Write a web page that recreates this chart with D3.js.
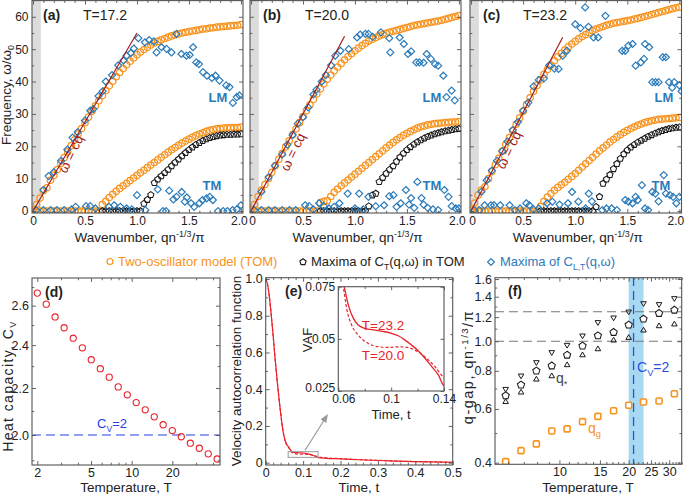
<!DOCTYPE html>
<html><head><meta charset="utf-8">
<script src="https://cdn.jsdelivr.net/npm/d3@7"></script>
<style>body{margin:0;background:#fff}svg{font-family:"Liberation Sans",Arial,sans-serif}</style>
</head><body>
<svg id="chart" width="685" height="494"></svg>
<script>
// ---------------- DATA ----------------
const qGrid = [0,0.033,0.067,0.1,0.133,0.167,0.2,0.233,0.267,0.3,0.333,0.367,0.4,0.433,0.467,0.5,0.533,0.567,0.6,0.633,0.667,0.7,0.733,0.767,0.8,0.833,0.867,0.9,0.933,0.967,1.0,1.033,1.067,1.1,1.133,1.167,1.2,1.233,1.267,1.3,1.333,1.367,1.4,1.433,1.467,1.5,1.533,1.567,1.6,1.633,1.667,1.7,1.733,1.767,1.8,1.833,1.867,1.9,1.933,1.967,2.0];
const _ = null;
const upperA = [0.5,2,4,6.3,7.2,9.5,11,12.8,14.7,16.5,18.3,20.2,22,23.8,25.5,27.3,29,30.8,32.5,34.1,35.7,37.2,38.7,40.1,41.5,42.8,44,45.2,46.3,47.3,48.3,49.1,49.9,50.6,51.3,51.9,52.4,52.9,53.3,53.7,54.1,54.4,54.7,55,55.2,55.4,55.6,55.8,56,56.2,56.3,56.5,56.6,56.8,56.9,57,57.1,57.2,57.3,57.4,57.6];
const lowerA = [0,0,0,0,0,0,0,0,0,0,0,0,0,0,0,0,0,0,0,0,2,3,4.2,5.2,6.1,7,7.8,8.6,9.4,10.2,11,11.8,12.6,13.4,14.2,15,15.8,16.6,17.4,18.2,18.9,19.6,20.3,21,21.6,22.2,22.8,23.3,23.8,24.2,24.6,24.9,25.2,25.4,25.5,25.6,25.7,25.7,25.8,25.8,25.9];
const blackA = [_,_,_,_,_,_,_,_,_,_,_,_,_,_,_,_,_,_,_,_,0,0,0,0,0,0,0,0,0,0,0,0,2.3,3.5,5,8.7,9.8,10.8,11.8,12.8,13.9,15,16,17,18,18.9,19.7,20.5,21.1,21.7,22.2,22.6,22.9,23.2,23.4,23.5,23.6,23.6,23.7,23.7,23.8];
const upperB = [0.5,2,4.5,6.5,8.2,10,12,14,16,17.8,19.8,21.7,23.6,25.4,27.3,29.2,31,32.8,34.5,36.2,37.8,39.3,40.7,42,43.3,44.5,45.6,46.7,47.7,48.6,49.5,50.3,51.1,51.8,52.5,53.1,53.6,54.1,54.5,54.9,55.2,55.5,55.8,56.1,56.4,56.7,57,57.3,57.5,57.7,57.9,58.1,58.3,58.5,58.7,58.9,59.2,59.5,59.8,60.1,60.4];
const lowerB = [0,0,0,0,0,0,0,0,0,0,0,0,0,0,0,0,0,0,0,0,2.6,3,3.2,4.5,5.8,6.8,7.8,8.7,9.6,10.5,11.4,12.3,13.2,14.1,15,15.9,16.8,17.7,18.6,19.5,20.4,21.2,22,22.7,23.4,24,24.6,25.1,25.6,26,26.3,26.6,26.8,27,27.1,27.2,27.3,27.4,27.5,27.5,27.6];
const blackB = [_,_,_,_,_,_,_,_,_,_,_,_,_,_,_,_,_,_,_,_,0,0,0,0,0,0,0,0,0,0,0,0,0,0,1.5,4.9,5.4,9,10.3,11.6,12.8,13.9,15.3,16.6,17.8,18.9,19.8,20.6,21.3,21.9,22.5,23,23.4,23.8,24.1,24.4,24.7,24.9,25.1,25.3,25.4];
const upperC = [0.5,2.5,4.9,6.5,7.5,10,12.2,14.3,16.4,18.5,20.6,22.7,24.8,26.8,28.8,30.8,32.9,35,37,38.8,40.5,42.2,43.7,45.1,46.4,47.6,48.7,49.7,50.7,51.6,52.4,53.2,53.9,54.5,55.1,55.7,56.2,56.6,57,57.4,57.7,58,58.2,58.4,58.6,58.8,59,59.3,59.5,59.8,60.1,60.4,60.7,61,61.3,61.6,61.9,62.2,62.5,62.8,63];
const lowerC = [0,0,0,0,0,0,0,0,0,0,0,0,0,0,0,0,0,0,0,0,1.5,3,4.3,5.4,6.4,7.3,8.1,8.9,9.8,10.7,11.6,12.6,13.6,14.6,15.6,16.6,17.6,18.6,19.5,20.4,21.3,22.1,22.9,23.6,24.3,24.9,25.5,26,26.5,26.9,27.3,27.6,27.9,28.1,28.3,28.4,28.5,28.6,28.7,28.8,28.9];
const blackC = [_,_,_,_,_,_,_,_,_,_,_,_,_,_,_,_,_,_,_,_,0,0,0,0,0,0,0,0,0,0,0,0,0,0,0,0,1.3,4.4,8.5,9.8,11.2,13,14.6,16.2,17.6,18.8,19.7,20.5,21.2,21.8,22.4,23,23.5,24,24.4,24.8,25.1,25.4,25.6,25.8,25.9];

// Maxima of C_L,T: [q, omega]
const lmA = [[0.1,6.5],[0.15,10.8],[0.2,12],[0.27,15.5],[0.33,19],[0.38,22.7],[0.43,24.4],[0.5,28],[0.55,31],[0.58,31.5],[0.63,35.5],[0.67,37],[0.7,40],[0.76,42],[0.82,45],[0.87,46.5],[0.9,48],[0.94,48.8],[0.97,50.2],[1.013,53.4],[1.077,52.1],[1.118,52.8],[1.163,52.4],[1.188,49],[1.236,50.6],[1.284,50.1],[1.332,49],[1.38,54.7],[1.427,48.5],[1.475,48],[1.507,48.2],[1.539,50.6],[1.571,45.9],[1.596,45.4],[1.635,42.9],[1.673,41.8],[1.721,41.1],[1.756,41.8],[1.794,40.3],[1.858,38.8],[1.89,38.3],[1.922,33.4],[1.96,35.2],[1.986,35.7]];
const tmA = [[0.03,0.3],[0.1,0.3],[0.17,0.3],[0.23,0.3],[0.3,0.3],[0.37,0.5],[0.41,1.3],[0.51,1.5],[0.55,1.5],[0.6,0.8],[0.73,1.3],[0.78,1.8],[0.84,1.3],[0.9,0.8],[0.95,0.5],[1.0,4.9],[1.08,0.3],[1.2,6.7],[1.25,0],[1.28,0],[1.31,6.3],[1.35,3.6],[1.38,4.4],[1.43,5.9],[1.46,2.9],[1.48,4.2],[1.52,2.4],[1.55,1.3],[1.6,2.4],[1.63,3.4],[1.67,3.9],[1.7,4.4],[1.73,3.4],[1.78,0],[1.83,0],[1.87,0],[1.92,0.3],[1.96,0.5],[2.0,1.8]];
const lmB = [[0.1,6],[0.17,10.5],[0.23,14],[0.3,17.5],[0.35,20.5],[0.4,23.5],[0.45,27],[0.5,29],[0.55,32],[0.6,36],[0.63,37.5],[0.68,40],[0.72,42],[0.77,45],[0.81,48],[0.86,49.5],[0.94,50],[1.02,53.6],[1.05,54.5],[1.1,54.7],[1.13,54.7],[1.17,53.8],[1.25,55.2],[1.33,53.4],[1.34,49],[1.43,53.6],[1.47,51.6],[1.51,48.5],[1.54,49.3],[1.59,45.9],[1.62,45.9],[1.66,45.8],[1.69,48.5],[1.73,47],[1.77,45.4],[1.8,44.9],[1.85,41.8],[1.88,35.2],[1.93,37.2],[1.96,34.2]];
const tmB = [[0.03,0.3],[0.1,0.3],[0.17,0.3],[0.23,0.3],[0.3,0.3],[0.37,0.3],[0.43,0.3],[0.52,1.8],[0.56,1.5],[0.6,0.5],[0.655,2.4],[0.7,1.5],[0.75,0.8],[0.8,1.3],[0.85,2.4],[0.93,5.4],[1.0,0.8],[1.04,5.4],[1.08,0.5],[1.13,4.4],[1.2,1.5],[1.28,1.8],[1.33,4.6],[1.37,4.9],[1.4,1.3],[1.44,2.4],[1.49,6.5],[1.52,2],[1.54,4],[1.57,1],[1.6,9],[1.64,4],[1.66,2],[1.7,1],[1.75,0.5],[1.8,0.3],[1.86,6.5],[1.9,4.4],[1.93,1.5],[1.97,0.8],[2.0,0.8]];
const lmC = [[0.1,6],[0.15,9.5],[0.2,12.5],[0.25,15.5],[0.3,18.5],[0.35,21.5],[0.4,25],[0.45,27.5],[0.5,31],[0.55,33.5],[0.6,38.5],[0.65,40.5],[0.7,41],[0.75,45],[0.8,44],[0.84,43.9],[0.88,48],[0.92,49.5],[1.0,57.7],[1.05,56.5],[1.095,62.9],[1.127,56.9],[1.176,53.6],[1.22,53.6],[1.29,60.3],[1.45,49.5],[1.48,49.5],[1.51,51.1],[1.55,51.6],[1.58,44.9],[1.63,45.9],[1.66,47],[1.67,51.6],[1.71,50.6],[1.74,39.8],[1.77,39.8],[1.8,39.8],[1.84,47.5],[1.87,47.5],[1.9,39.8],[1.93,38.1],[1.95,39.8],[2.0,38.8],[2.02,37]];
const tmC = [[0.03,0.3],[0.08,0.3],[0.13,1.8],[0.19,1.8],[0.22,1.8],[0.28,1.8],[0.37,1.8],[0.42,0.3],[0.47,0.8],[0.53,2.4],[0.56,1.8],[0.6,0.5],[0.65,0.8],[0.73,2.4],[0.78,2.9],[0.85,2],[0.93,2.4],[0.97,5.9],[1.03,2.9],[1.1,0.8],[1.13,5.4],[1.16,3],[1.26,0.3],[1.3,0.8],[1.35,0.8],[1.4,0.3],[1.48,3.4],[1.51,2.9],[1.55,2.4],[1.58,4.4],[1.6,3.4],[1.64,8],[1.67,0.8],[1.7,0.3],[1.74,5.9],[1.77,5.4],[1.8,3],[1.85,11.1],[1.87,5.4],[1.91,4.9],[1.94,4.4],[1.97,2.4],[2.0,4.4]];
const soundSlope = [55, 60, 61];      // omega = c q
const soundEnd = [1.0, 0.9, 0.88];     // q where the fitted line ends
const panelTemps = ["T=17.2", "T=20.0", "T=23.2"];
const freqTicks = [0,10,20,30,40,50,60];
const qTicks = [0,0.5,1.0,1.5,2.0];

// (d) heat capacity
const Tcv = [2.0,2.33,2.71,3.16,3.69,4.31,5.02,5.86,6.82,7.95,9.28,10.8,12.6,14.7,17.1,20.0,23.3,27.2,31.7,36.9,43.0];
const Cv  = [2.667,2.608,2.541,2.486,2.434,2.387,2.330,2.288,2.249,2.205,2.170,2.136,2.105,2.075,2.042,2.018,1.993,1.967,1.947,1.925,1.905];
const cvTicksX = [2,5,10,20], cvTicksY = [2.0,2.2,2.4,2.6];

// (e) velocity autocorrelation
const tSolid = [0,.005,.01,.015,.02,.025,.03,.035,.04,.045,.05,.055,.06,.0645,.0676,.0714,.0751,.0802,.0878,.0953,.1004,.1054,.1105,.1155,.1206,.1256,.1307,.1357,.14,.16,.2,.25,.3,.35,.4,.45,.5];
const vafT232 = [1,.97,.9,.8,.69,.57,.46,.36,.27,.19,.135,.105,.089,.075,.0662,.0598,.0566,.055,.0542,.0534,.0526,.0515,.0494,.047,.0442,.0407,.0367,.0327,.0275,.024,.021,.016,.012,.009,.006,.004,.002];
const tDashed = [0,.005,.01,.015,.02,.025,.03,.035,.04,.045,.05,.055,.06,.0638,.0663,.0701,.0751,.0827,.0903,.0979,.1054,.113,.118,.1231,.1281,.1332,.14,.16,.2,.25,.3,.35,.4,.45,.5];
const vafT200 = [1,.97,.9,.8,.69,.57,.46,.36,.27,.19,.133,.102,.086,.075,.0646,.0566,.0518,.0478,.0462,.0459,.0462,.0458,.0446,.0426,.0399,.0367,.0314,.027,.022,.017,.013,.009,.006,.004,.002];

// (f) q-gap
const Tq    = [5.84,6.81,7.94,9.26,10.8,12.6,14.7,17.2,20.0,23.2,27.1,31.6];
const qGap  = [0.403,0.438,0.461,0.508,0.516,0.545,0.567,0.592,0.617,0.632,0.637,0.673];
const qStar = [0.663,0.719,0.799,0.831,0.901,0.965,1.043,1.070,1.131,1.183,1.235,1.266];
const qUpper= [0.697,0.771,0.853,0.920,0.972,1.043,1.154,1.195,1.250,1.331,1.322,1.383];
const qLower= [0.633,0.680,0.750,0.769,0.836,0.901,0.943,1.007,1.027,1.086,1.122,1.137];
const cvCrossT = 21.0, bandT = [20.0, 23.2], qRefLines = [1.0, 1.25];

// ---------------- DRAWING ----------------
const svg = d3.select("#chart");
const ORANGE = "#f7931e", BLUE = "#2b7bba", DRED = "#a01c1c", FRAME = "#555", RED = "#e8232b", TXT = "#222";
const FS = 12.5, TS = 13.5;

function pentagon(r){const p=[];for(let k=0;k<5;k++){const a=-Math.PI/2+k*2*Math.PI/5;p.push([ (r*Math.cos(a)).toFixed(2),(r*Math.sin(a)).toFixed(2)]);}return "M"+p.map(d=>d.join(",")).join("L")+"Z";}
function diamond(s){return `M0,${-s}L${s},0L0,${s}L${-s},0Z`;}
function triangle(s,down){return down?`M${-s},${-s*0.6}L${s},${-s*0.6}L0,${s*1.1}Z`:`M${-s},${s*0.6}L${s},${s*0.6}L0,${-s*1.1}Z`;}

function rich(sel, segs, fs){
  let shift=0;
  segs.forEach(s=>{
    const target = s.sub? fs*0.28 : s.sup? -fs*0.36 : 0;
    const ts = sel.append("tspan").attr("dy", target-shift).text(s.t);
    if (s.sub||s.sup) ts.attr("font-size", fs*0.66);
    shift=target;
  });
  return sel;
}
function label(x,y,segs,o={}){
  const t = svg.append("text").attr("x",x).attr("y",y).attr("font-size",o.fs||TS).attr("fill",o.fill||TXT)
    .attr("text-anchor",o.anchor||"start");
  if (o.bold) t.attr("font-weight","bold");
  if (o.ls) t.attr("letter-spacing",o.ls);
  if (o.rot!=null) t.attr("transform",`rotate(${o.rot},${x},${y})`);
  if (o.dy) t.attr("dy",o.dy);
  return rich(t, typeof segs==="string"?[{t:segs}]:segs, o.fs||TS);
}

function frameAxes(x, y, o){
  const g = svg.append("g");
  const [xa,xb]=x.range(), [ya,yb]=y.range();
  const mk=(fn,scale,vals,size,fmt,tr)=>{
    if(!vals||!vals.length) return null;
    const a=g.append("g").attr("transform",tr)
      .call(fn(scale).tickValues(vals).tickSize(-size).tickSizeOuter(0).tickPadding(o.pad||4).tickFormat(fmt||(()=>"")));
    a.select(".domain").remove();
    a.selectAll("line").attr("stroke",FRAME).attr("stroke-width",0.9);
    a.selectAll("text").attr("font-size",o.fs||FS).attr("fill",TXT).attr("font-family",'"Liberation Sans",Arial,sans-serif');
    return a;
  };
  const L=o.len||4, M=o.mlen||2.3;
  const bx = mk(d3.axisBottom,x,o.xMajor,L,o.xFmt,`translate(0,${ya})`);
  if (bx && o.xShift) bx.selectAll("text").attr("dx",(d,i)=>o.xShift(d,i));
  mk(d3.axisBottom,x,o.xMinor,M,null,`translate(0,${ya})`);
  mk(d3.axisTop,x,o.xMajor,L,null,`translate(0,${yb})`);
  mk(d3.axisTop,x,o.xMinor,M,null,`translate(0,${yb})`);
  const ly = mk(d3.axisLeft,y,o.yMajor,L,o.yFmt,`translate(${xa},0)`);
  if (ly && o.yShift) ly.selectAll("text").attr("transform",(d,i)=>`translate(0,${o.yShift(d,i)})`);
  mk(d3.axisLeft,y,o.yMinor,M,null,`translate(${xa},0)`);
  mk(d3.axisRight,y,o.yMajor,L,null,`translate(${xb},0)`);
  mk(d3.axisRight,y,o.yMinor,M,null,`translate(${xb},0)`);
  g.append("rect").attr("x",xa).attr("y",yb).attr("width",xb-xa).attr("height",ya-yb)
    .attr("fill","none").attr("stroke",FRAME).attr("stroke-width",1.1);
}
let clipN=0;
function clipped(x,y){
  const id="cp"+(clipN++);
  const [xa,xb]=x.range(), [ya,yb]=y.range();
  svg.append("clipPath").attr("id",id).append("rect").attr("x",xa).attr("y",yb).attr("width",xb-xa).attr("height",ya-yb);
  return svg.append("g").attr("clip-path",`url(#${id})`);
}

// ---- top panels (a)(b)(c)
const yTop = d3.scaleLinear().domain([-0.6,65]).range([213,0.6]);
const panels = [
  {x0:32,x1:243,up:upperA,lo:lowerA,bk:blackA,lm:lmA,tm:tmA,tag:"(a)",tagX:43,tX:83,lbl:[75,156],lmX:218,tmX:212},
  {x0:250,x1:461,up:upperB,lo:lowerB,bk:blackB,lm:lmB,tm:tmB,tag:"(b)",tagX:263,tX:305,lbl:[297,154],lmX:432,tmX:432},
  {x0:470,x1:681.5,up:upperC,lo:lowerC,bk:blackC,lm:lmC,tm:tmC,tag:"(c)",tagX:483,tX:523,lbl:[513,152],lmX:664,tmX:661}
];
const qMinor = d3.range(1,20).map(i=>i/10).filter(v=>Math.abs(v*2-Math.round(v*2))>1e-6);
panels.forEach((p,k)=>{
  const x = d3.scaleLinear().domain([-0.01,2.02]).range([p.x0,p.x1]);
  const pg = clipped(x,yTop);
  pg.append("rect").attr("x",x(-0.01)).attr("y",0).attr("width",x(0.075)-x(-0.01)).attr("height",214).attr("fill","#dcdcdc");
  const orange = qGrid.map((q,i)=>[q,p.up[i]]).concat(qGrid.map((q,i)=>[q,p.lo[i]]));
  pg.selectAll(null).data(orange).join("circle").attr("cx",d=>x(d[0])).attr("cy",d=>yTop(d[1])).attr("r",3.2)
    .attr("fill","none").attr("stroke",ORANGE).attr("stroke-width",1.25);
  const blk = qGrid.map((q,i)=>[q,p.bk[i]]).filter(d=>d[1]!=null);
  pg.selectAll(null).data(blk).join("path").attr("d",pentagon(3.3)).attr("transform",d=>`translate(${x(d[0])},${yTop(d[1])})`)
    .attr("fill","none").attr("stroke","#1a1a1a").attr("stroke-width",1.05);
  pg.selectAll(null).data(p.lm.concat(p.tm)).join("path").attr("d",diamond(3.5)).attr("transform",d=>`translate(${x(d[0])},${yTop(d[1])})`)
    .attr("fill","none").attr("stroke",BLUE).attr("stroke-width",1.2);
  pg.append("line").attr("x1",x(0)).attr("y1",yTop(0)).attr("x2",x(soundEnd[k])).attr("y2",yTop(soundSlope[k]*soundEnd[k]))
    .attr("stroke",DRED).attr("stroke-width",1.2);
  frameAxes(x,yTop,{xMajor:qTicks,xMinor:qMinor,yMajor:freqTicks,yMinor:[5,15,25,35,45,55],fs:12,pad:3.5,
    xFmt:d=>d===0?"0":d.toFixed(1), yFmt:k===0?(d=>String(d)):null,
    xShift:d=>d===2?(k===2?-4:-2):(d===0&&k>0?1:0)});
  label(p.lbl[0],p.lbl[1],"ω = cq",{fill:DRED,anchor:"middle",rot:-64,fs:13.5,dy:"0.35em"});
  label(p.tagX,20,p.tag,{bold:true,fs:14});
  label(p.tX,20,panelTemps[k],{fs:14});
  label(p.lmX,102,"LM",{bold:true,fill:BLUE,anchor:"middle",fs:13});
  label(p.tmX,190,"TM",{bold:true,fill:BLUE,anchor:"middle",fs:13});
  label((p.x0+p.x1)/2+2,242,[{t:"Wavenumber, qn"},{t:"-1/3",sup:true},{t:"/π"}],{anchor:"middle"});
});
label(10.5,95,[{t:"Frequency, ω/ω"},{t:"0",sub:true}],{anchor:"middle",rot:-90});

// legend
svg.append("circle").attr("cx",110).attr("cy",261.5).attr("r",3).attr("fill","none").attr("stroke",ORANGE).attr("stroke-width",1.2);
label(118,266,"Two-oscillator model (TOM)",{fill:ORANGE,fs:13});
svg.append("path").attr("d",pentagon(3.3)).attr("transform","translate(303,262)").attr("fill","none").attr("stroke","#1a1a1a").attr("stroke-width",1.1);
label(311,266,[{t:"Maxima of C"},{t:"T",sub:true},{t:"(q,ω) in TOM"}],{fs:13});
svg.append("path").attr("d",diamond(3.4)).attr("transform","translate(491,262)").attr("fill","none").attr("stroke",BLUE).attr("stroke-width",1.2);
label(500,266,[{t:"Maxima of C"},{t:"L,T",sub:true},{t:"(q,ω)"}],{fill:BLUE,fs:13});

// ---- (d)
{
  const x = d3.scaleLog().domain([1.827,45.1]).range([32,220]);
  const y = d3.scaleLog().domain([1.882,2.75]).range([465,278]);
  const pg = clipped(x,y);
  pg.append("line").attr("x1",32).attr("x2",220).attr("y1",y(2)).attr("y2",y(2)).attr("stroke","#2a3fe0").attr("stroke-width",1.2).attr("stroke-dasharray","9,5");
  pg.selectAll(null).data(Tcv.map((t,i)=>[t,Cv[i]])).join("circle").attr("cx",d=>x(d[0])).attr("cy",d=>y(d[1])).attr("r",3.1)
    .attr("fill","none").attr("stroke",RED).attr("stroke-width",1.1);
  frameAxes(x,y,{xMajor:cvTicksX,xMinor:[3,4,6,7,8,9,30,40],yMajor:cvTicksY,yMinor:[1.9,2.1,2.3,2.5,2.7],
    xFmt:d=>String(d),yFmt:d=>d.toFixed(1),pad:3});
  label(112,428,[{t:"C"},{t:"V",sub:true},{t:"=2"}],{fill:"#2a3fe0",anchor:"middle",fs:13});
  label(45,297,"(d)",{bold:true,fs:14});
  label(12.5,386,[{t:"Heat capacity, C"},{t:"V",sub:true}],{anchor:"middle",rot:-90,fs:14,ls:1.4});
  label(126,491.5,"Temperature, T",{anchor:"middle"});
}

// ---- (e)
{
  const x = d3.scaleLinear().domain([0,0.5]).range([265.7,452.7]);
  const y = d3.scaleLinear().domain([-0.0125,1.007]).range([465,277.7]);
  const line = (xs,ys,sx,sy)=>d3.line().curve(d3.curveMonotoneX)(xs.map((t,i)=>[sx(t),sy(ys[i])]));
  const pg = clipped(x,y);
  pg.append("path").attr("d",line(tDashed,vafT200,x,y)).attr("fill","none").attr("stroke",RED).attr("stroke-width",1.2).attr("stroke-dasharray","3,2");
  pg.append("path").attr("d",line(tSolid,vafT232,x,y)).attr("fill","none").attr("stroke",RED).attr("stroke-width",1.2);
  pg.append("rect").attr("x",x(0.06)).attr("y",y(0.06)).attr("width",x(0.14)-x(0.06)).attr("height",y(0.029)-y(0.06))
    .attr("fill","none").attr("stroke","#999").attr("stroke-width",1);
  frameAxes(x,y,{xMajor:[0,0.1,0.2,0.3,0.4,0.5],xMinor:d3.range(1,25).map(i=>i*0.02).filter(v=>Math.abs(v*10-Math.round(v*10))>1e-6),
    yMajor:[0,0.2,0.4,0.6,0.8,1.0],yMinor:[0.1,0.3,0.5,0.7,0.9],xFmt:d=>d===0?"0":d.toFixed(1),yFmt:d=>d===0?"0":d.toFixed(1),pad:3});
  svg.append("defs").append("marker").attr("id","ah").attr("viewBox","0 0 10 10").attr("refX",8).attr("refY",5)
    .attr("markerWidth",7).attr("markerHeight",7).attr("orient","auto").append("path").attr("d","M0,1L10,5L0,9Z").attr("fill","#999");
  svg.append("line").attr("x1",305).attr("y1",450.5).attr("x2",327).attr("y2",415.5).attr("stroke","#999").attr("stroke-width",1.2).attr("marker-end","url(#ah)");
  label(285,296,"(e)",{bold:true,fs:14});
  label(240.5,371,"Velocity autocorrelation function",{anchor:"middle",rot:-90});
  label(359,491.5,"Time, t",{anchor:"middle"});
  // inset
  const xi = d3.scaleLinear().domain([0.06,0.14]).range([338.3,444]);
  const yi = d3.scaleLinear().domain([0.025,0.075]).range([391,286.7]);
  svg.append("rect").attr("x",338.3).attr("y",286.7).attr("width",444-338.3).attr("height",391-286.7).attr("fill","#fff");
  const ig = clipped(xi,yi);
  ig.append("path").attr("d",line(tDashed,vafT200,xi,yi)).attr("fill","none").attr("stroke",RED).attr("stroke-width",1.2).attr("stroke-dasharray","3,2");
  ig.append("path").attr("d",line(tSolid,vafT232,xi,yi)).attr("fill","none").attr("stroke",RED).attr("stroke-width",1.3);
  frameAxes(xi,yi,{xMajor:[0.06,0.1,0.14],xMinor:[0.08,0.12],yMajor:[0.025,0.05,0.075],yMinor:[],
    xFmt:d=>String(d),yFmt:d=>String(d),pad:3,len:3.5,fs:12,xShift:d=>d===0.06?5:0,yShift:d=>d===0.025?-3:0});
  label(383,330,"T=23.2",{fill:RED,anchor:"middle",fs:13.5});
  label(383,360,"T=20.0",{fill:RED,anchor:"middle",fs:13.5});
  label(312,340,"VAF",{anchor:"middle",rot:-90,fs:13});
  label(391,418.5,"Time, t",{anchor:"middle",fs:13});
}

// ---- (f)
{
  const x = d3.scaleLog().domain([5.248,34.0]).range([495,681.7]);
  const y = d3.scaleLog().domain([0.395,1.616]).range([464.3,277.7]);
  const pg = clipped(x,y);
  pg.append("rect").attr("x",x(bandT[0])).attr("y",277).attr("width",x(bandT[1])-x(bandT[0])).attr("height",190).attr("fill","#a8d9f3");
  qRefLines.forEach(v=>pg.append("line").attr("x1",495).attr("x2",681.7).attr("y1",y(v)).attr("y2",y(v))
    .attr("stroke","#777").attr("stroke-width",1.1).attr("stroke-dasharray","9,5"));
  pg.append("line").attr("x1",x(cvCrossT)).attr("x2",x(cvCrossT)).attr("y1",277).attr("y2",466)
    .attr("stroke","#2a4fe0").attr("stroke-width",1.3).attr("stroke-dasharray","9,5");
  const pts = a=>Tq.map((t,i)=>[t,a[i]]);
  pg.selectAll(null).data(pts(qGap)).join("rect").attr("x",d=>x(d[0])-3).attr("y",d=>y(d[1])-3).attr("width",6).attr("height",6).attr("rx",1.2)
    .attr("fill","#fff").attr("stroke",ORANGE).attr("stroke-width",1.6);
  pg.selectAll(null).data(pts(qStar)).join("path").attr("d",pentagon(3.8)).attr("transform",d=>`translate(${x(d[0])},${y(d[1])})`)
    .attr("fill","#fff").attr("stroke","#1a1a1a").attr("stroke-width",1.05);
  pg.selectAll(null).data(pts(qUpper)).join("path").attr("d",triangle(2.8,true)).attr("transform",d=>`translate(${x(d[0])},${y(d[1])})`)
    .attr("fill","none").attr("stroke","#1a1a1a").attr("stroke-width",1);
  pg.selectAll(null).data(pts(qLower)).join("path").attr("d",triangle(2.8,false)).attr("transform",d=>`translate(${x(d[0])},${y(d[1])})`)
    .attr("fill","none").attr("stroke","#1a1a1a").attr("stroke-width",1);
  const minors=[6,7,8,9,11,12,13,14,16,17,18,19,21,22,23,24,26,27,28,29,31,32,33,34];
  frameAxes(x,y,{xMajor:[10,15,20,25,30],xMinor:minors,yMajor:[0.4,0.6,0.8,1.0,1.2,1.4,1.6],yMinor:[0.5,0.7,0.9,1.1,1.3,1.5],
    xFmt:d=>String(d),yFmt:d=>d.toFixed(1),pad:3});
  label(637,372,[{t:"C"},{t:"V",sub:true},{t:"=2"}],{fill:"#2a4fe0",fs:14});
  label(556,383,[{t:"q"},{t:"*",sub:true}],{fill:"#444",fs:14});
  label(588,433,[{t:"q"},{t:"g",sub:true}],{fill:ORANGE,fs:14});
  label(508,296,"(f)",{bold:true,fs:14});
  label(473,367,[{t:"q-gap, qn"},{t:"-1/3",sup:true},{t:"/π"}],{anchor:"middle",rot:-90,fs:14.5,ls:1.5});
  label(588,491.5,"Temperature, T",{anchor:"middle"});
}
</script>
</body></html>
